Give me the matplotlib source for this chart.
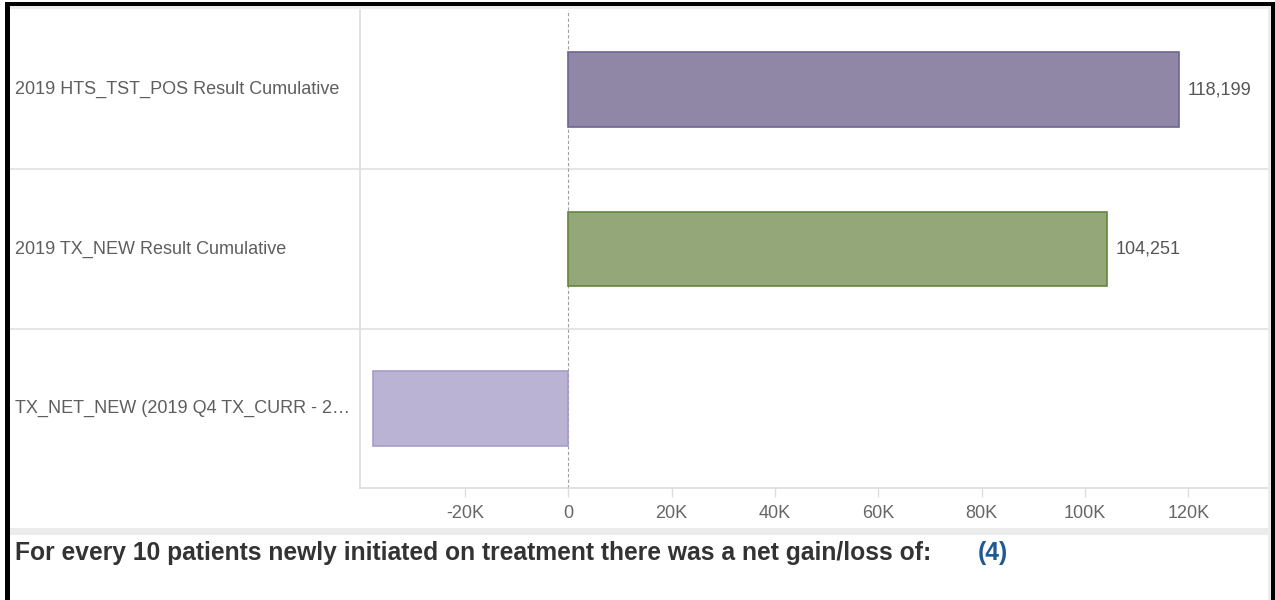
import matplotlib
matplotlib.use("Agg")
import matplotlib.pyplot as plt
from matplotlib.patches import Rectangle
from matplotlib.ticker import FuncFormatter
import matplotlib.transforms as mtransforms

plt.rcParams['font.family'] = ['Liberation Sans', 'DejaVu Sans']

# measures shown as rows, top to bottom
labels = ["2019 HTS_TST_POS Result Cumulative",
          "2019 TX_NEW Result Cumulative",
          "TX_NET_NEW (2019 Q4 TX_CURR - 2\u2026"]
values = [118199, 104251, -37880]
fills = ["#9087a6", "#93a779", "#bbb3d4"]
edges = ["#6f6597", "#65853f", "#a69dca"]
show_value = [True, True, False]
xticks = [-20000, 0, 20000, 40000, 60000, 80000, 100000, 120000]

W, H = 1275, 600
fig = plt.figure(figsize=(W / 100, H / 100), dpi=100)
fig.patch.set_facecolor("white")


def fx(x):
    return x / W


def fy(y):
    return 1 - y / H


# frame of the dashboard panel
for x0, y0, x1, y1, c in [(5, 2, 1275, 6, "black"), (5, 2, 10, 600, "black"),
                          (1271, 2, 1275, 600, "black"),
                          (10, 6, 1271, 9, "#ececec"),
                          (1268, 6, 1271, 600, "#ececec"),
                          (10, 528, 1268, 535, "#ececec")]:
    fig.add_artist(Rectangle((fx(x0), fy(y1)), fx(x1) - fx(x0), fy(y0) - fy(y1),
                             transform=fig.transFigure, color=c, lw=0))

ax = fig.add_axes([fx(360), fy(488), fx(1268) - fx(360), fy(10) - fy(488)])
ax.set_xlim(-40300, 135400)
ax.set_ylim(2.5, -0.5)

ypos = list(range(len(values)))
ax.barh(ypos, values, height=0.47, color=fills, edgecolor=edges, linewidth=1.2, zorder=3)

for y, v, s in zip(ypos, values, show_value):
    if s:
        ax.annotate(f"{v:,}", (v, y), xytext=(6, 0), textcoords="offset points",
                    va="center", ha="left", fontsize=13, color="#555555")

# row labels on the left, in the label column
lab_tr = mtransforms.blended_transform_factory(ax.transAxes, ax.transData)
for y, t in zip(ypos, labels):
    ax.text((15 - 360) / (1268 - 360), y, t, transform=lab_tr, ha="left", va="center",
            fontsize=13, color="#5e5e5e")

# row separators spanning label column and plot
for b in [0.5, 1.5]:
    ax.axhline(b, xmin=(10 - 360) / (1268 - 360), xmax=1, color="#e3e3e3", lw=1.3,
               clip_on=False, zorder=1)

ax.axvline(0, color="#a0a0a0", lw=0.8, ls=(0, (3, 2)), zorder=2)

ax.set_yticks([])
ax.set_xticks(xticks)
ax.xaxis.set_major_formatter(FuncFormatter(lambda v, p: "0" if v == 0 else f"{v / 1000:.0f}K"))
ax.tick_params(axis="x", length=6.5, width=1, color="#dddddd", labelsize=13,
               labelcolor="#666666", pad=6)
for side in ["top", "right"]:
    ax.spines[side].set_visible(False)
ax.spines["left"].set_color("#dedede")
ax.spines["left"].set_linewidth(1.3)
ax.spines["bottom"].set_color("#dedede")
ax.spines["bottom"].set_linewidth(1.3)

# net gain/loss per 10 newly initiated patients
ratio = round(abs(values[2]) / values[1] * 10)
ratio_txt = f"({ratio})" if values[2] < 0 else f"{ratio}"
fig.text(fx(15), fy(553), "For every 10 patients newly initiated on treatment there was a net gain/loss of:",
         ha="left", va="center", fontsize=17.7, fontweight="bold", color="#333333")
fig.text(fx(978), fy(553), ratio_txt, ha="left", va="center", fontsize=17.7,
         fontweight="bold", color="#1f5a94")

fig.savefig("out.png", dpi=100)
